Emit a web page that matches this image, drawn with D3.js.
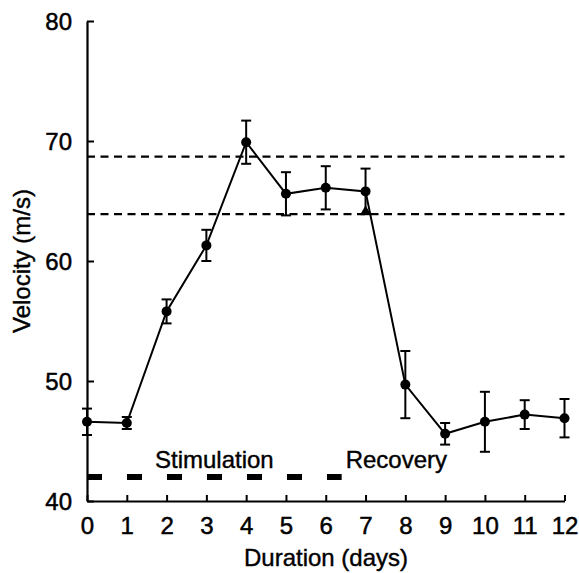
<!DOCTYPE html>
<html><head><meta charset="utf-8">
<script src="https://cdn.jsdelivr.net/npm/d3@7"></script>
<style>body{margin:0;background:#fff}svg{display:block}text{font-family:"Liberation Sans",Arial,Helvetica,sans-serif;fill:#000}</style>
</head><body>
<script>
const days = [0,1,2,3,4,5,6,7,8,9,10,11,12];
const velocity = [46.6,46.5,55.8,61.3,69.9,65.6,66.1,65.8,49.7,45.6,46.6,47.2,46.9];
const errorSD = [1.1,0.5,1.0,1.3,1.8,1.8,1.8,1.9,2.8,0.9,2.5,1.2,1.6];
const refLines = [68.7,63.9];
const xTicks = [0,1,2,3,4,5,6,7,8,9,10,11,12];
const yTicks = [40,50,60,70,80];
const stimulation = {from:0, to:6.4, level:42};
const labels = [{text:"Stimulation", x:3.2, anchor:"middle"},{text:"Recovery", x:6.5, anchor:"start"}];
const triangleCapDays = [7];

const W=579,H=573;
const svg=d3.select("body").append("svg").attr("width",W).attr("height",H);
const x=d3.scaleLinear().domain([0,12]).range([87,564.5]);
const y=d3.scaleLinear().domain([40,80]).range([501,21]);
const FS=24;

// axes
const yAxis=svg.append("g").attr("transform",`translate(${x(0)},0)`)
 .call(d3.axisLeft(y).tickValues(yTicks).tickSize(-7).tickPadding(15).tickSizeOuter(0));
const xAxis=svg.append("g").attr("transform",`translate(0,${y(40)})`)
 .call(d3.axisBottom(x).tickValues(xTicks).tickSize(-6).tickPadding(16).tickSizeOuter(0));
[yAxis,xAxis].forEach(g=>{
  g.select(".domain").attr("stroke","#000").attr("stroke-width",2.2);
  g.selectAll(".tick line").attr("stroke","#000").attr("stroke-width",2);
  g.selectAll(".tick text").attr("font-size",FS).attr("fill","#000")
   .attr("font-family","Liberation Sans, Arial, sans-serif").attr("stroke","#000").attr("stroke-width",0.5);
});
yAxis.selectAll(".tick text").attr("dy","0.36em");

// reference dashed lines
svg.selectAll(".ref").data(refLines).join("line")
 .attr("x1",x(0)).attr("x2",x(12)).attr("y1",d=>y(d)).attr("y2",d=>y(d))
 .attr("stroke","#000").attr("stroke-width",2.2).attr("stroke-dasharray","8,5.5");

// stimulation bar
svg.append("line").attr("x1",x(stimulation.from)).attr("x2",x(stimulation.to))
 .attr("y1",y(stimulation.level)).attr("y2",y(stimulation.level))
 .attr("stroke","#000").attr("stroke-width",6).attr("stroke-dasharray","15,25");

svg.selectAll(".lbl").data(labels).join("text")
 .attr("x",d=>x(d.x)).attr("y",y(stimulation.level)-9).attr("text-anchor",d=>d.anchor)
 .attr("font-size",FS).attr("stroke","#000").attr("stroke-width",0.4).text(d=>d.text);

// line
svg.append("path").datum(days.map((d,i)=>[d,velocity[i]]))
 .attr("fill","none").attr("stroke","#000").attr("stroke-width",2)
 .attr("d",d3.line().x(d=>x(d[0])).y(d=>y(d[1])));

// error bars
const eb=svg.selectAll(".eb").data(days).join("g");
eb.append("line").attr("x1",d=>x(d)).attr("x2",d=>x(d))
 .attr("y1",(d,i)=>y(velocity[i]+errorSD[i])).attr("y2",(d,i)=>y(velocity[i]-errorSD[i]))
 .attr("stroke","#000").attr("stroke-width",2);
[1,-1].forEach(s=>{
 eb.append("line").attr("x1",d=>x(d)-5).attr("x2",d=>x(d)+5)
  .attr("y1",(d,i)=>y(velocity[i]+s*errorSD[i])).attr("y2",(d,i)=>y(velocity[i]+s*errorSD[i]))
  .attr("stroke","#000").attr("stroke-width",2);
});
svg.selectAll(".tri").data(triangleCapDays).join("path")
 .attr("transform",d=>`translate(${x(d)},${y(velocity[d]-errorSD[d])-3})`)
 .attr("d",d3.symbol(d3.symbolTriangle,45)).attr("fill","#000");
svg.selectAll(".pt").data(days).join("circle")
 .attr("cx",d=>x(d)).attr("cy",(d,i)=>y(velocity[i])).attr("r",5).attr("fill","#000");

// axis titles
svg.append("text").attr("x",326).attr("y",566).attr("text-anchor","middle")
 .attr("font-size",FS).attr("stroke","#000").attr("stroke-width",0.4).text("Duration (days)");
svg.append("text").attr("transform",`translate(30,${y(60)}) rotate(-90)`).attr("text-anchor","middle")
 .attr("font-size",FS).attr("stroke","#000").attr("stroke-width",0.4).text("Velocity (m/s)");
</script>
</body></html>
